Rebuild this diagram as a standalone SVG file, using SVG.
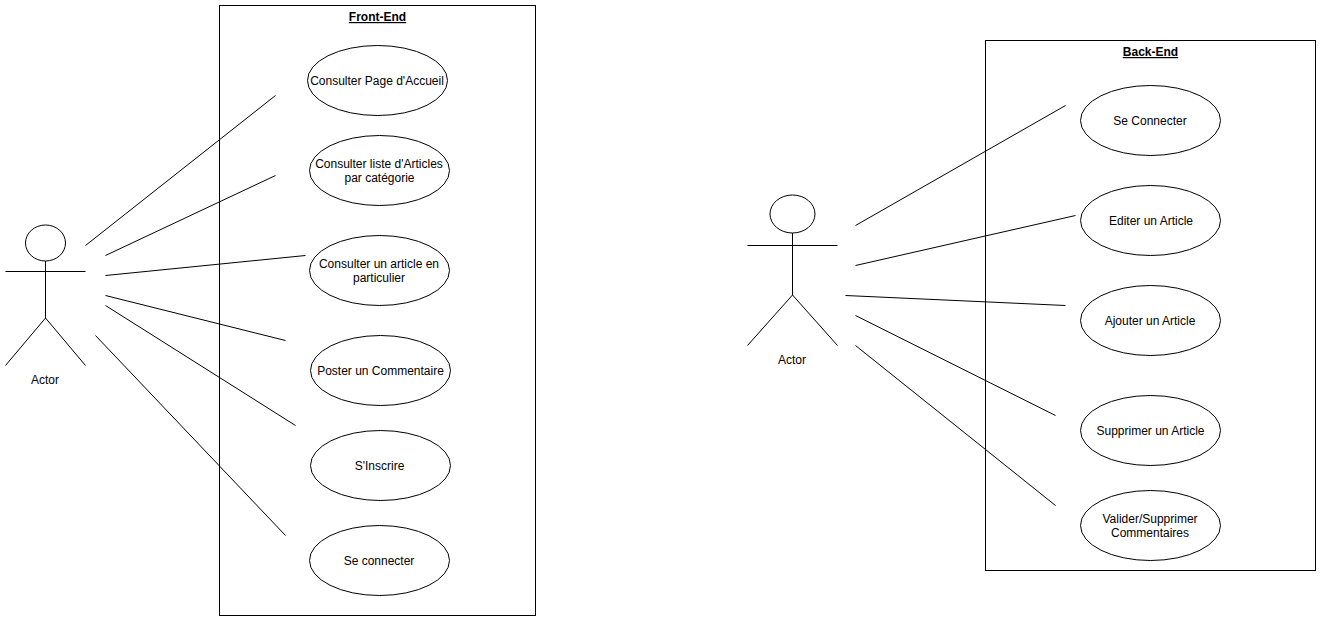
<svg xmlns="http://www.w3.org/2000/svg" width="1321" height="621" viewBox="0 0 1321 621">
<style>
.s{fill:none;stroke:#000;stroke-width:1}
.e{fill:#fff;stroke:#000;stroke-width:1}
text{font-family:"Liberation Sans",Arial,sans-serif;font-size:12px;fill:#000;text-anchor:middle}
.t{font-weight:bold;text-decoration:underline}
</style>
<rect width="1321" height="621" fill="#fff"/>
<g id="front-end"><rect class="s" x="219.500" y="5.500" width="316" height="610"/><text class="t" x="377.500" y="21">Front-End</text></g>
<g id="back-end"><rect class="s" x="985.500" y="40.500" width="330" height="530"/><text class="t" x="1150.500" y="56">Back-End</text></g>
<g id="actor-front"><ellipse class="s" cx="45.500" cy="243" rx="20" ry="18"/><path class="s" d="M45.500 261V318M5.500 271.500H85.500M45.500 318L5.500 365.500M45.500 318L85.500 365.500"/><text x="45" y="384">Actor</text></g>
<g id="actor-back"><ellipse class="s" cx="792.500" cy="214" rx="22.500" ry="19"/><path class="s" d="M792.500 233V295M747.500 245.500H837.500M792.500 295L747.500 345.500M792.500 295L837.500 345.500"/><text x="792" y="364">Actor</text></g>
<g id="connectors">
<path class="s" d="M85.500 245.500L275.500 95.500M105.500 255.500L275.500 175.500M105.500 275.500L305.500 255.500M105.500 295.500L285.500 340.500M105.500 305.500L295.500 425.500M95.500 335.500L285.500 535.500"/>
<path class="s" d="M855.500 225.500L1065.500 105.500M855.500 265.500L1075.500 215.500M845.500 295.500L1065.500 305.500M855.500 315.500L1055.500 415.500M855.500 345.500L1055.500 505.500"/>
</g>
<g id="n1"><ellipse class="e" cx="377.500" cy="80.500" rx="70" ry="35"/><text x="377" y="85">Consulter Page d'Accueil</text></g>
<g id="n2"><ellipse class="e" cx="379.500" cy="170.500" rx="70" ry="35"/><text x="379" y="168">Consulter liste d'Articles</text><text x="379.500" y="182">par catégorie</text></g>
<g id="n3"><ellipse class="e" cx="379.500" cy="270.500" rx="70" ry="35"/><text x="379" y="268">Consulter un article en</text><text x="379" y="282">particulier</text></g>
<g id="n4"><ellipse class="e" cx="380.500" cy="370.500" rx="70" ry="35"/><text x="380.500" y="375">Poster un Commentaire</text></g>
<g id="n5"><ellipse class="e" cx="380.500" cy="465.500" rx="70" ry="35"/><text x="379.500" y="470">S'Inscrire</text></g>
<g id="n6"><ellipse class="e" cx="379.500" cy="560.500" rx="70" ry="35"/><text x="379" y="565">Se connecter</text></g>
<g id="b1"><ellipse class="e" cx="1150.500" cy="120.500" rx="70" ry="35"/><text x="1150" y="125">Se Connecter</text></g>
<g id="b2"><ellipse class="e" cx="1150.500" cy="220.500" rx="70" ry="35"/><text x="1151" y="225">Editer un Article</text></g>
<g id="b3"><ellipse class="e" cx="1150.500" cy="320.500" rx="70" ry="35"/><text x="1150" y="325">Ajouter un Article</text></g>
<g id="b4"><ellipse class="e" cx="1150.500" cy="430.500" rx="70" ry="35"/><text x="1150.500" y="435">Supprimer un Article</text></g>
<g id="b5"><ellipse class="e" cx="1150.500" cy="525.500" rx="70" ry="35"/><text x="1150" y="523">Valider/Supprimer</text><text x="1150" y="537">Commentaires</text></g>
</svg>
